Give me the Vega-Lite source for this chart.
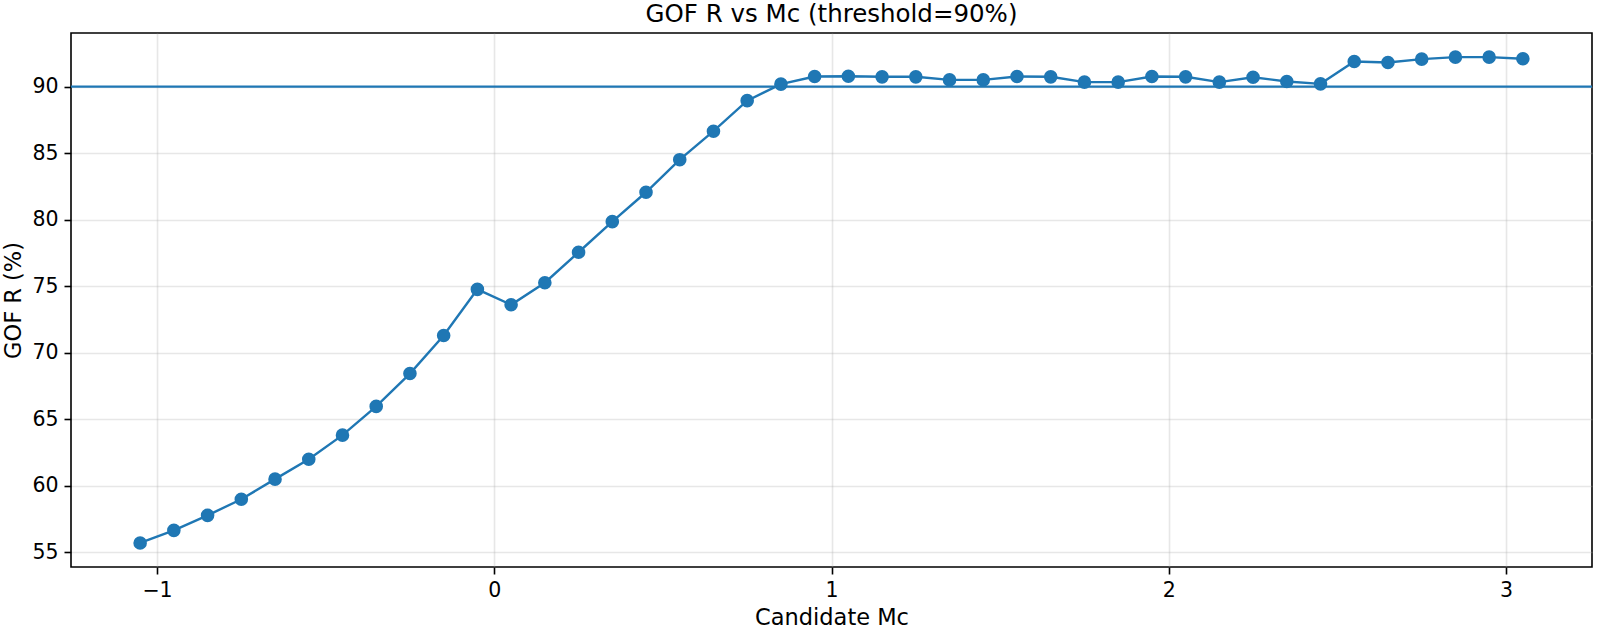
{
  "$schema": "https://vega.github.io/schema/vega-lite/v6.json",
  "width": 1521,
  "height": 534,
  "autosize": {"type": "none"},
  "padding": {"left": 71, "top": 33, "right": 5, "bottom": 63},
  "background": "white",
  "config": {
    "font": "DejaVu Sans",
    "view": {"stroke": "black", "strokeWidth": 1.6},
    "axis": {
      "domain": false,
      "grid": true,
      "gridColor": "#b0b0b0",
      "gridOpacity": 0.3,
      "gridWidth": 1.6,
      "tickColor": "black",
      "tickSize": 7,
      "tickWidth": 1.6,
      "labelColor": "black",
      "labelFontSize": 20.5,
      "labelFont": "DejaVu Sans",
      "titleFont": "DejaVu Sans",
      "titleFontSize": 22.5,
      "titleFontWeight": "normal",
      "titleColor": "black",
      "labelPadding": 6
    },
    "title": {"font": "DejaVu Sans", "fontSize": 24.5, "fontWeight": "normal", "color": "black", "offset": 6}
  },
  "title": "GOF R vs Mc (threshold=90%)",
  "data": {
    "values": [
      {"mc": -1.05, "r": 55.68},
      {"mc": -0.95, "r": 56.63},
      {"mc": -0.85, "r": 57.76},
      {"mc": -0.75, "r": 58.97},
      {"mc": -0.65, "r": 60.48},
      {"mc": -0.55, "r": 61.98},
      {"mc": -0.45, "r": 63.79},
      {"mc": -0.35, "r": 65.95},
      {"mc": -0.25, "r": 68.42},
      {"mc": -0.15, "r": 71.28},
      {"mc": -0.05, "r": 74.75},
      {"mc": 0.05, "r": 73.59},
      {"mc": 0.15, "r": 75.25},
      {"mc": 0.25, "r": 77.54},
      {"mc": 0.35, "r": 79.84},
      {"mc": 0.45, "r": 82.05},
      {"mc": 0.55, "r": 84.5},
      {"mc": 0.65, "r": 86.64},
      {"mc": 0.75, "r": 88.94},
      {"mc": 0.85, "r": 90.18},
      {"mc": 0.95, "r": 90.75},
      {"mc": 1.05, "r": 90.77},
      {"mc": 1.15, "r": 90.73},
      {"mc": 1.25, "r": 90.73},
      {"mc": 1.35, "r": 90.5},
      {"mc": 1.45, "r": 90.5},
      {"mc": 1.55, "r": 90.75},
      {"mc": 1.65, "r": 90.73},
      {"mc": 1.75, "r": 90.33},
      {"mc": 1.85, "r": 90.33},
      {"mc": 1.95, "r": 90.75},
      {"mc": 2.05, "r": 90.73},
      {"mc": 2.15, "r": 90.33},
      {"mc": 2.25, "r": 90.7},
      {"mc": 2.35, "r": 90.38},
      {"mc": 2.45, "r": 90.2},
      {"mc": 2.55, "r": 91.88},
      {"mc": 2.65, "r": 91.81},
      {"mc": 2.75, "r": 92.06},
      {"mc": 2.85, "r": 92.21},
      {"mc": 2.95, "r": 92.21},
      {"mc": 3.05, "r": 92.09}
    ]
  },
  "layer": [
    {
      "data": {"values": [{"threshold": 90}]},
      "mark": {"type": "rule", "color": "#1f77b4", "strokeWidth": 2.2},
      "encoding": {"y": {"field": "threshold", "type": "quantitative"}}
    },
    {
      "mark": {"type": "line", "color": "#1f77b4", "strokeWidth": 2.4},
      "encoding": {
        "x": {"field": "mc", "type": "quantitative"},
        "y": {"field": "r", "type": "quantitative"}
      }
    },
    {
      "mark": {"type": "circle", "color": "#1f77b4", "opacity": 1, "size": 185},
      "encoding": {
        "x": {"field": "mc", "type": "quantitative", "title": "Candidate Mc",
              "scale": {"domain": [-1.255, 3.255], "nice": false, "zero": false},
              "axis": {"values": [-1, 0, 1, 2, 3], "format": "d", "titlePadding": 6}},
        "y": {"field": "r", "type": "quantitative", "title": "GOF R (%)",
              "scale": {"domain": [53.875, 94.025], "nice": false, "zero": false},
              "axis": {"values": [55, 60, 65, 70, 75, 80, 85, 90], "format": "d", "titlePadding": 6}}
      }
    }
  ]
}
